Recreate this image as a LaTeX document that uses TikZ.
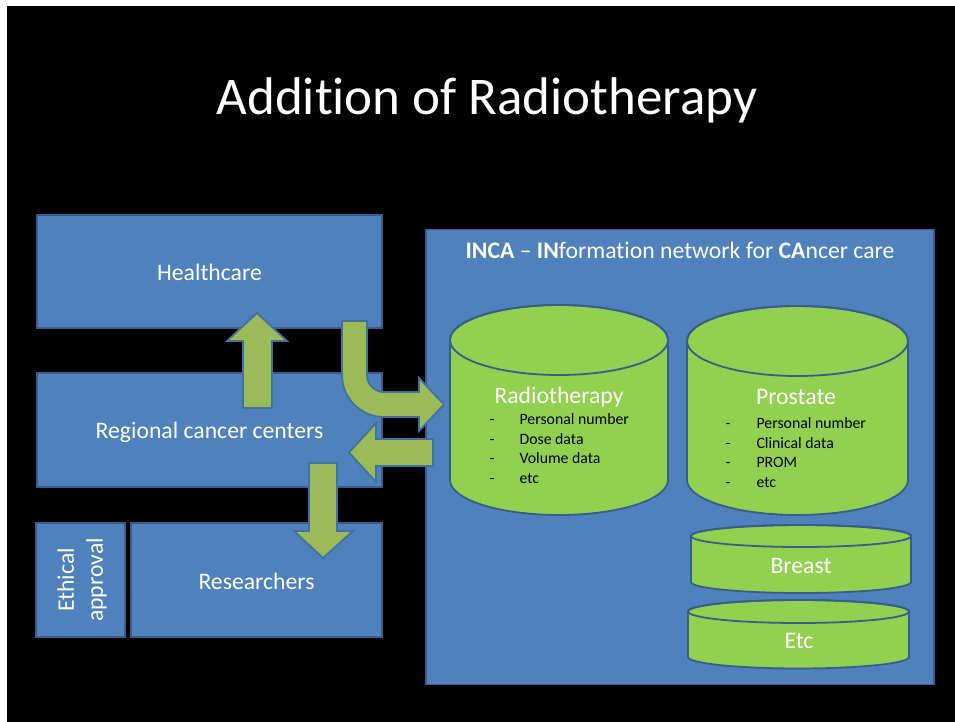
\documentclass[tikz,border=0pt]{standalone}
\usepackage{fontspec}
\setmainfont{Carlito}[Ligatures=NoCommon]
\definecolor{boxblue}{HTML}{4F81BD}
\definecolor{edgeblue}{HTML}{385D8A}
\definecolor{cylgreen}{HTML}{92D050}
\definecolor{arrgreen}{HTML}{9BBB59}
\definecolor{arredge}{HTML}{41719C}
\newcommand\dbcyl[5]{% x1, x2, ytop, ybot, ry
  \pgfmathsetmacro\cylrx{(#2-#1)/2}%
  \pgfmathsetmacro\cylcx{(#2+#1)/2}%
  \filldraw[cylstyle] (#1,#3) -- (#1,#4) arc[start angle=180,end angle=360,x radius=\cylrx pt,y radius=#5pt] -- (#2,#3) arc[start angle=0,end angle=180,x radius=\cylrx pt,y radius=#5pt] -- cycle;
  \draw[cylstyle,fill=none] (\cylcx,#3) ellipse[x radius=\cylrx pt,y radius=#5pt];
}
\begin{document}
\begin{tikzpicture}[x=1pt,y=-1pt,
  box/.style={fill=boxblue,draw=edgeblue,line width=1.8pt},
  boxtext/.style={text=white,font=\fontsize{23.7}{29}\selectfont},
  cylstyle/.style={fill=cylgreen,draw=edgeblue,line width=1.8pt},
  blockarrow/.style={fill=arrgreen,draw=arredge,line width=1.8pt,line join=miter},
  cyltitle/.style={text=white,font=\fontsize{23.7}{29}\selectfont},
  item/.style={text=black,anchor=west,font=\fontsize{15.8}{19}\selectfont},
  dashtxt/.style={text=black,font=\fontsize{15.8}{19}\selectfont}]
\fill[white] (0,0) rectangle (955,722);
\fill[black] (7,6) rectangle (955,722);
\useasboundingbox (0,0) rectangle (955,722);

\node[text=white,font=\fontsize{53}{60}\selectfont] (title) at (487,100) {Addition of Radiotherapy};

% left boxes
\node[box,minimum width=345pt,minimum height=113pt] (health) at (209.5,271.5) {};
\node[boxtext] (healtht) at (209.5,272.5) {Healthcare};
\node[box,minimum width=345pt,minimum height=114pt] (rcc) at (209.5,430) {};
\node[boxtext] (rcct) at (209.5,432) {Regional cancer centers};
\node[box,minimum width=89pt,minimum height=114pt] (ethbox) at (80.5,580) {};
\node[boxtext,rotate=90,align=center] (eth) at (82,580) {Ethical\\approval};
\node[box,minimum width=251pt,minimum height=114pt] (res) at (256.5,580) {};
\node[boxtext] (rest) at (256.5,581) {Researchers};

% INCA box
\node[box,minimum width=508pt,minimum height=455pt] (inca) at (680,457) {};
\node[cyltitle] (incatitle) at (680,250) {\textbf{INCA} – \textbf{IN}formation network for \textbf{CA}ncer care};

% cylinders
\dbcyl{450}{668}{340}{480}{35}
\dbcyl{687}{908}{341}{480}{35}
\dbcyl{691}{911}{536}{582}{11}
\dbcyl{688}{909}{611.5}{657}{11.5}

\node[cyltitle] (rt) at (559,397) {Radiotherapy};
\foreach \t [count=\i] in {Personal number,Dose data,Volume data,etc}{
  \node[dashtxt] (rtd\i) at (492,401.5+19.5*\i) {\strut-};
  \node[item] (rti\i) at (516,401.5+19.5*\i) {\strut\t};
}
\node[cyltitle] (pr) at (796,397) {Prostate};
\foreach \t [count=\i] in {Personal number,Clinical data,PROM,etc}{
  \node[dashtxt] (prd\i) at (728,405+19.6*\i) {\strut-};
  \node[item] (pri\i) at (753,405+19.6*\i) {\strut\t};
}
\node[cyltitle] (br) at (801,566) {Breast};
\node[cyltitle] (etc) at (799,641) {Etc};

% block arrows
\filldraw[blockarrow] (243,408) -- (243,341) -- (227,341) -- (257,313) -- (287,341) -- (272,341) -- (272,408) -- cycle;
\filldraw[blockarrow] (309,463) -- (337,463) -- (337,531) -- (353,531) -- (323,558) -- (294,531) -- (309,531) -- cycle;
\filldraw[blockarrow] (433,439) -- (433,466) -- (376,466) -- (376,482) -- (349,452.5) -- (376,423) -- (376,439) -- cycle;
\filldraw[blockarrow] (342,321) -- (367,321) -- (367,375) arc[start angle=180,end angle=270,radius=17pt] -- (419,392) -- (419,378) -- (444,404.5) -- (419,431) -- (419,417) -- (384,417) arc[start angle=270,end angle=180,radius=42pt] -- cycle;
\end{tikzpicture}
\end{document}
